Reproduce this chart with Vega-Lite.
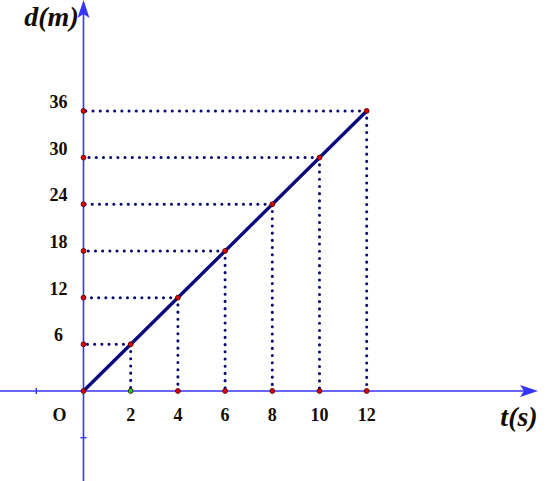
{
  "$schema": "https://vega.github.io/schema/vega-lite/v6.json",
  "width": 550,
  "height": 481,
  "autosize": {"type": "none"},
  "padding": 0,
  "background": "white",
  "config": {"view": {"stroke": null}},
  "datasets": {
    "pts": [{"t": 2, "d": 6}, {"t": 4, "d": 12}, {"t": 6, "d": 18}, {"t": 8, "d": 24}, {"t": 10, "d": 30}, {"t": 12, "d": 36}],
    "seg": [{"t": 0, "d": 0}, {"t": 12, "d": 36}],
    "axes": [{"t": -3.6, "t2": 18.9, "d": 0, "d2": 0}, {"t": 0, "t2": 0, "d": -11.6, "d2": 49.6}],
    "ticks": [{"t": -2, "t2": -2, "d": -0.4, "d2": 0.4}, {"t": -0.13, "t2": 0.13, "d": -6, "d2": -6}],
    "xend": [{"t": 18.835, "d": 0, "label": "t(s)"}],
    "yend": [{"t": 0, "d": 48.97, "label": "d(m)"}],
    "origin": [{"t": 0, "d": 0, "label": "O"}]
  },
  "layer": [
    {
      "data": {"name": "axes"},
      "mark": {"type": "rule", "color": "#3535ff", "strokeWidth": 1.6},
      "encoding": {
        "x": {"field": "t", "type": "quantitative", "scale": {"domain": [-3.538, 19.767], "nice": false, "zero": false}, "axis": null},
        "x2": {"field": "t2"},
        "y": {"field": "d", "type": "quantitative", "scale": {"domain": [-11.568, 50.257], "nice": false, "zero": false}, "axis": null},
        "y2": {"field": "d2"}
      }
    },
    {
      "data": {"name": "ticks"},
      "mark": {"type": "rule", "color": "#3535ff", "strokeWidth": 1.4},
      "encoding": {
        "x": {"field": "t", "type": "quantitative", "scale": {"domain": [-3.538, 19.767], "nice": false, "zero": false}, "axis": null},
        "x2": {"field": "t2"},
        "y": {"field": "d", "type": "quantitative", "scale": {"domain": [-11.568, 50.257], "nice": false, "zero": false}, "axis": null},
        "y2": {"field": "d2"}
      }
    },
    {
      "data": {"name": "xend"},
      "mark": {"type": "point", "filled": true, "color": "#3535ff", "opacity": 1, "size": 400, "shape": "M1,0 L-0.8,-0.6 L-0.4,0 L-0.8,0.6 Z"},
      "encoding": {
        "x": {"field": "t", "type": "quantitative", "scale": {"domain": [-3.538, 19.767], "nice": false, "zero": false}, "axis": null},
        "y": {"field": "d", "type": "quantitative", "scale": {"domain": [-11.568, 50.257], "nice": false, "zero": false}, "axis": null}
      }
    },
    {
      "data": {"name": "yend"},
      "mark": {"type": "point", "filled": true, "color": "#3535ff", "opacity": 1, "size": 400, "shape": "M0,-1 L0.6,0.8 L0,0.4 L-0.6,0.8 Z"},
      "encoding": {
        "x": {"field": "t", "type": "quantitative", "scale": {"domain": [-3.538, 19.767], "nice": false, "zero": false}, "axis": null},
        "y": {"field": "d", "type": "quantitative", "scale": {"domain": [-11.568, 50.257], "nice": false, "zero": false}, "axis": null}
      }
    },
    {
      "data": {"name": "pts"},
      "mark": {"type": "rule", "color": "#0a0a70", "strokeWidth": 3, "strokeCap": "round", "strokeDash": [0.1, 7.1]},
      "encoding": {
        "x": {"field": "t", "type": "quantitative", "scale": {"domain": [-3.538, 19.767], "nice": false, "zero": false}, "axis": null},
        "x2": {"datum": 0},
        "y": {"field": "d", "type": "quantitative", "scale": {"domain": [-11.568, 50.257], "nice": false, "zero": false}, "axis": null}
      }
    },
    {
      "data": {"name": "pts"},
      "mark": {"type": "rule", "color": "#0a0a70", "strokeWidth": 3, "strokeCap": "round", "strokeDash": [0.1, 7.1]},
      "encoding": {
        "x": {"field": "t", "type": "quantitative", "scale": {"domain": [-3.538, 19.767], "nice": false, "zero": false}, "axis": null},
        "y": {"field": "d", "type": "quantitative", "scale": {"domain": [-11.568, 50.257], "nice": false, "zero": false}, "axis": null},
        "y2": {"datum": 0}
      }
    },
    {
      "data": {"name": "seg"},
      "mark": {"type": "line", "color": "#0a0a80", "strokeWidth": 3.4},
      "encoding": {
        "x": {"field": "t", "type": "quantitative", "scale": {"domain": [-3.538, 19.767], "nice": false, "zero": false}, "axis": null},
        "y": {"field": "d", "type": "quantitative", "scale": {"domain": [-11.568, 50.257], "nice": false, "zero": false}, "axis": null}
      }
    },
    {
      "data": {"name": "pts"},
      "mark": {"type": "point", "filled": true, "fill": "#e00000", "stroke": "#400000", "strokeWidth": 0.8, "opacity": 1, "size": 24},
      "encoding": {
        "x": {"field": "t", "type": "quantitative", "scale": {"domain": [-3.538, 19.767], "nice": false, "zero": false}, "axis": null},
        "y": {"field": "d", "type": "quantitative", "scale": {"domain": [-11.568, 50.257], "nice": false, "zero": false}, "axis": null}
      }
    },
    {
      "data": {"name": "pts"},
      "mark": {"type": "point", "filled": true, "fill": "#e00000", "stroke": "#400000", "strokeWidth": 0.8, "opacity": 1, "size": 24},
      "encoding": {
        "x": {"datum": 0, "type": "quantitative", "scale": {"domain": [-3.538, 19.767], "nice": false, "zero": false}, "axis": null},
        "y": {"field": "d", "type": "quantitative", "scale": {"domain": [-11.568, 50.257], "nice": false, "zero": false}, "axis": null}
      }
    },
    {
      "data": {"name": "pts"},
      "mark": {"type": "point", "filled": true, "stroke": "#400000", "strokeWidth": 0.8, "opacity": 1, "size": 24},
      "encoding": {
        "x": {"field": "t", "type": "quantitative", "scale": {"domain": [-3.538, 19.767], "nice": false, "zero": false}, "axis": null},
        "y": {"datum": 0, "type": "quantitative", "scale": {"domain": [-11.568, 50.257], "nice": false, "zero": false}, "axis": null},
        "fill": {"condition": {"test": "datum.t == 2", "value": "#22cc22"}, "value": "#e00000"}
      }
    },
    {
      "data": {"name": "origin"},
      "mark": {"type": "point", "filled": true, "fill": "#e00000", "stroke": "#400000", "strokeWidth": 0.8, "opacity": 1, "size": 24},
      "encoding": {
        "x": {"field": "t", "type": "quantitative", "scale": {"domain": [-3.538, 19.767], "nice": false, "zero": false}, "axis": null},
        "y": {"field": "d", "type": "quantitative", "scale": {"domain": [-11.568, 50.257], "nice": false, "zero": false}, "axis": null}
      }
    },
    {
      "data": {"name": "pts"},
      "mark": {"type": "text", "font": "Liberation Serif", "fontWeight": "bold", "fontSize": 18, "color": "#140c00", "align": "center", "baseline": "middle", "dx": -25, "dy": -8},
      "encoding": {
        "x": {"datum": 0, "type": "quantitative", "scale": {"domain": [-3.538, 19.767], "nice": false, "zero": false}, "axis": null},
        "y": {"field": "d", "type": "quantitative", "scale": {"domain": [-11.568, 50.257], "nice": false, "zero": false}, "axis": null},
        "text": {"field": "d", "type": "quantitative"}
      }
    },
    {
      "data": {"name": "pts"},
      "mark": {"type": "text", "font": "Liberation Serif", "fontWeight": "bold", "fontSize": 18, "color": "#140c00", "align": "center", "baseline": "middle", "dy": 25},
      "encoding": {
        "x": {"field": "t", "type": "quantitative", "scale": {"domain": [-3.538, 19.767], "nice": false, "zero": false}, "axis": null},
        "y": {"datum": 0, "type": "quantitative", "scale": {"domain": [-11.568, 50.257], "nice": false, "zero": false}, "axis": null},
        "text": {"field": "t", "type": "quantitative"}
      }
    },
    {
      "data": {"name": "origin"},
      "mark": {"type": "text", "font": "Liberation Serif", "fontWeight": "bold", "fontSize": 18, "color": "#140c00", "align": "center", "baseline": "middle", "dx": -24, "dy": 25},
      "encoding": {
        "x": {"field": "t", "type": "quantitative", "scale": {"domain": [-3.538, 19.767], "nice": false, "zero": false}, "axis": null},
        "y": {"field": "d", "type": "quantitative", "scale": {"domain": [-11.568, 50.257], "nice": false, "zero": false}, "axis": null},
        "text": {"field": "label"}
      }
    },
    {
      "data": {"name": "yend"},
      "mark": {"type": "text", "font": "Liberation Serif", "fontWeight": "bold", "fontStyle": "italic", "fontSize": 28, "color": "#140c00", "align": "center", "baseline": "middle", "dx": -32, "dy": 8},
      "encoding": {
        "x": {"field": "t", "type": "quantitative", "scale": {"domain": [-3.538, 19.767], "nice": false, "zero": false}, "axis": null},
        "y": {"field": "d", "type": "quantitative", "scale": {"domain": [-11.568, 50.257], "nice": false, "zero": false}, "axis": null},
        "text": {"field": "label"}
      }
    },
    {
      "data": {"name": "xend"},
      "mark": {"type": "text", "font": "Liberation Serif", "fontWeight": "bold", "fontStyle": "italic", "fontSize": 28, "color": "#140c00", "align": "center", "baseline": "middle", "dx": -9, "dy": 27},
      "encoding": {
        "x": {"field": "t", "type": "quantitative", "scale": {"domain": [-3.538, 19.767], "nice": false, "zero": false}, "axis": null},
        "y": {"field": "d", "type": "quantitative", "scale": {"domain": [-11.568, 50.257], "nice": false, "zero": false}, "axis": null},
        "text": {"field": "label"}
      }
    }
  ]
}
